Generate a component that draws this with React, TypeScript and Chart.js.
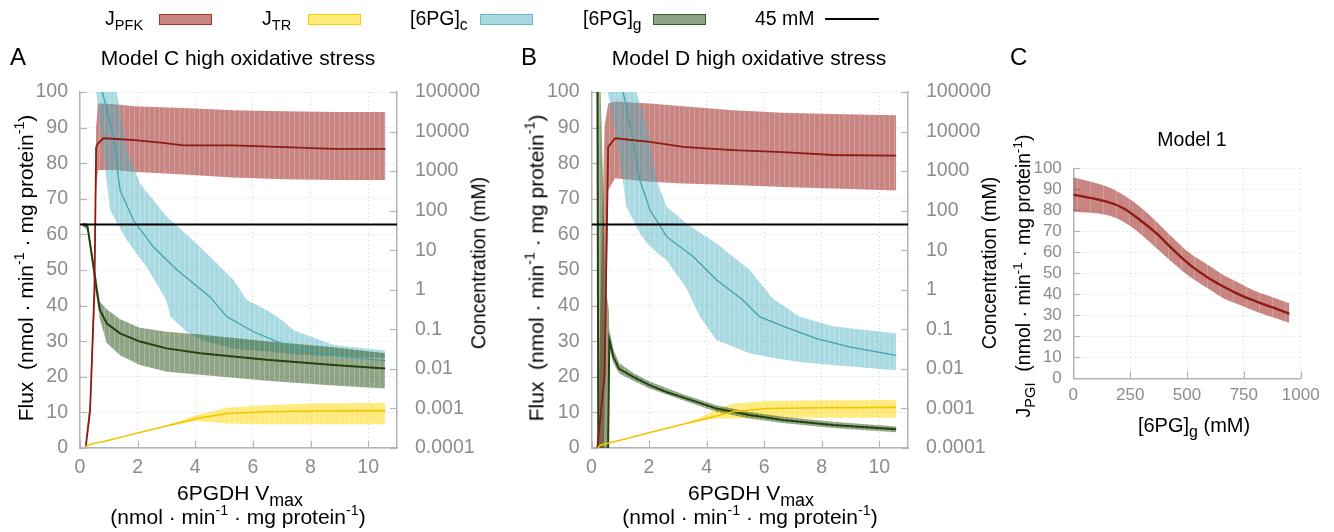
import React, { useEffect, useRef } from 'react';
import { Chart, registerables } from 'chart.js';

Chart.register(...registerables);

// ---------------- data ----------------
const X_TICKS_AB = [0, 2, 4, 6, 8, 10];
const FLUX_TICKS = [0, 10, 20, 30, 40, 50, 60, 70, 80, 90, 100];
const CONC_TICKS = [0.0001, 0.001, 0.01, 0.1, 1, 10, 100, 1000, 10000, 100000];
const CONC_TICK_LABELS = ['0.0001', '0.001', '0.01', '0.1', '1', '10', '100', '1000', '10000', '100000'];
const C_X_TICKS = [0, 250, 500, 750, 1000];
const C_X_TICK_LABELS = ['0', '250', '500', '750', '1000'];
const C_Y_TICKS = [0, 10, 20, 30, 40, 50, 60, 70, 80, 90, 100];

const THRESHOLD_X = [0, 11];
const THRESHOLD_MM = [45, 45];

// Panel A: Model C high oxidative stress
const A_PFK_X = [0.2, 0.35, 0.5, 0.56, 0.62, 0.81, 1.3, 1.9, 2.8, 3.6, 5.3, 7.1, 8.8, 10.6];
const A_PFK = [0.4, 10.7, 44, 84.5, 85.5, 87, 86.8, 86.5, 85.8, 85, 85, 84.5, 84, 84];
const A_PFK_HI = [0.8, 14, 50, 90, 96.8, 96.8, 96.5, 96, 95.7, 95.5, 94.9, 94.6, 94.4, 94.4];
const A_PFK_LO = [0, 8, 38, 73, 78, 78.1, 78, 77.5, 77.2, 76.8, 76, 75.5, 75.3, 75.3];

const A_TR_X = [0.2, 0.4, 1, 2, 3, 4.05, 5.1, 6.5, 8, 10.6];
const A_TR = [0.4, 1.1, 2.2, 4.2, 6.2, 8.3, 9.7, 10.2, 10.4, 10.5];
const A_TR_HI = [0.4, 1.1, 2.2, 4.2, 6.4, 9.3, 11.3, 12.1, 12.5, 12.7];
const A_TR_LO = [0.4, 1.1, 2.2, 4.2, 6.0, 7.6, 6.9, 6.7, 6.7, 6.7];

const A_C6_X = [0.72, 1.16, 1.39, 1.85, 2.55, 3.36, 4.51, 5.09, 6.02, 7.41, 8.8, 10.59];
const A_C6 = [150000, 7400, 330, 58, 12, 3.2, 0.66, 0.21, 0.087, 0.033, 0.022, 0.016];
const A_C6_BX = [0.54, 1.04, 1.27, 1.62, 2.08, 2.31, 2.89, 3.01, 3.13, 3.7, 4.17, 4.4, 5.32, 5.79, 6.48, 7.06, 7.41, 8.8, 10.59];
const A_C6_HI = [1e6, 1e6, 100000, 3400, 490, 300, 91, 71, 59, 25, 12, 8.3, 1.8, 0.55, 0.31, 0.16, 0.095, 0.04, 0.029];
const A_C6_LO = [150000, 105, 52, 18, 6.3, 3.8, 0.74, 0.5, 0.21, 0.087, 0.056, 0.049, 0.033, 0.03, 0.028, 0.025, 0.023, 0.021, 0.019];

const A_G6_X = [0.1, 0.26, 0.4, 0.5, 0.58, 0.69, 0.93, 1.39, 2.08, 3.01, 4.17, 6.48, 8.8, 10.59];
const A_G6 = [45, 40, 8.3, 2.7, 0.98, 0.31, 0.14, 0.079, 0.049, 0.033, 0.025, 0.017, 0.0126, 0.0102];
const A_G6_BX = [0.1, 0.26, 0.5, 0.69, 0.93, 1.39, 2.08, 3.01, 4.17, 6.48, 8.8, 10.59];
const A_G6_HI = [50, 48, 4, 0.5, 0.32, 0.18, 0.11, 0.087, 0.074, 0.05, 0.035, 0.025];
const A_G6_LO = [40, 32, 1.6, 0.18, 0.045, 0.022, 0.0126, 0.0085, 0.0071, 0.005, 0.0038, 0.0032];

// Panel B: Model D high oxidative stress
const B_PFK_X = [0.2, 0.45, 0.58, 0.82, 2.03, 3.18, 4.92, 6.65, 8.39, 10.59];
const B_PFK = [0, 20, 84.6, 87, 86, 84.6, 83.7, 83.1, 82.3, 82.1];
const B_PFK_HI = [0, 90, 96.8, 97.3, 96.8, 96, 94.9, 94.2, 93.8, 93.5];
const B_PFK_LO = [0, 0, 72.5, 75.8, 74.8, 74.3, 73.9, 73.3, 72.9, 72.3];

const B_TR_X = [0.22, 0.3, 1, 2, 3, 4.23, 4.92, 6.07, 8, 10.59];
const B_TR = [0, 0.8, 2.2, 4.3, 6.3, 8.8, 10.2, 11.1, 11.3, 11.4];
const B_TR_BX = [0.22, 3, 3.7, 4.23, 4.92, 6.07, 8, 10.59];
const B_TR_HI = [0, 6.3, 8.3, 10.3, 12.5, 13.2, 13.4, 13.5];
const B_TR_LO = [0, 6.3, 7.3, 8.2, 8.3, 8.5, 8.5, 8.5];

const B_C6_X = [1.05, 1.44, 1.68, 2.03, 2.61, 3.53, 4.34, 5.26, 5.84, 6.65, 7.8, 8.96, 10.59];
const B_C6 = [150000, 6200, 590, 105, 22, 6.9, 1.8, 0.55, 0.21, 0.12, 0.059, 0.036, 0.022];
const B_C6_BX = [0.51, 0.98, 1.21, 1.56, 1.68, 1.9, 2.26, 2.61, 3.3, 3.76, 4.34, 5.49, 6.3, 7.22, 8.39, 10.59];
const B_C6_HI = [1e6, 1e6, 1e6, 100000, 50000, 16000, 590, 126, 48, 28, 15, 3.2, 0.6, 0.21, 0.12, 0.079];
const B_C6_LO = [160000, 2300, 126, 40, 27, 16, 8.9, 5.6, 1.1, 0.21, 0.054, 0.025, 0.019, 0.015, 0.0126, 0.0093];

const B_G6_X = [0.2, 0.24, 0.56, 0.62, 0.76, 0.96, 1.45, 2.02, 2.6, 3.18, 4.34, 5.49, 6.65, 8.39, 10.59];
const B_G6 = [1e7, 1e-5, 1e-5, 0.054, 0.02, 0.01, 0.0063, 0.0039, 0.0026, 0.0019, 0.001, 0.00068, 0.00051, 0.00038, 0.0003];
const B_G6_BX = [0.18, 0.24, 0.3, 0.5, 0.6, 0.62, 0.76, 0.96, 1.45, 2.02, 3.18, 4.34, 5.49, 6.65, 8.39, 10.59];
const B_G6_HI = [1e7, 1e7, 300000, 1, 0.32, 0.1, 0.032, 0.014, 0.0079, 0.0048, 0.0023, 0.0012, 0.00081, 0.00062, 0.00046, 0.00035];
const B_G6_LO = [1e6, 1e-5, 1e-5, 1e-5, 1e-5, 0.035, 0.014, 0.0076, 0.005, 0.0032, 0.0016, 0.00083, 0.00056, 0.00043, 0.00032, 0.00025];

// Panel C: Model 1
const C_X = [0, 147, 220, 293, 366, 440, 513, 586, 660, 733, 806, 880, 950];
const C_J = [87.5, 84.1, 81, 75.4, 69, 61.1, 54, 48.4, 43.7, 39.7, 36.5, 33.6, 30.7];
const C_HI = [95.7, 91.3, 87.3, 81.7, 74.6, 66.7, 59.5, 54.4, 49.2, 45.2, 41.3, 38.5, 35.7];
const C_LO = [79.4, 77.8, 74.6, 69, 61.9, 54.8, 48.4, 43.2, 38.1, 34.9, 31.7, 29, 26.5];

// ---------------- styles ----------------
const FONT = '"Liberation Sans", Arial, Helvetica, sans-serif';
const TICK_COLOR = '#8c8c8c';
const GRID_COLOR = '#d2d2d2';
const AXIS_COLOR = '#b4b4b4';

const RED = { line: '#8e1b12', fill: 'rgba(160,45,40,0.58)', light: 'rgba(160,45,40,0.46)', edge: '#a3322b' };
const YEL = { line: '#f2c500', fill: 'rgba(255,215,0,0.52)', light: 'rgba(255,215,0,0.40)', edge: '#f5cc00' };
const CYA = { line: '#3fa3b0', fill: 'rgba(75,178,192,0.48)', light: 'rgba(75,178,192,0.36)', edge: '#6fb9c3' };
const GRN = { line: '#23420f', fill: 'rgba(40,80,20,0.52)', light: 'rgba(40,80,20,0.40)', edge: '#3c5e2a' };

const pts = (xs: number[], ys: number[]) => xs.map((x, i) => ({ x, y: ys[i] }));

function stripes(main: string, light: string, period: number): any {
  const c = document.createElement('canvas');
  c.width = period;
  c.height = 4;
  const g = c.getContext('2d');
  if (!g) return main;
  g.fillStyle = main;
  g.fillRect(0, 0, period - 1, 4);
  g.fillStyle = light;
  g.fillRect(period - 1, 0, 1, 4);
  return g.createPattern(c, 'repeat') || main;
}

function lineDs(xs: number[], ys: number[], color: string, width: number, axis: string, order: number, tension = 0) {
  return {
    data: pts(xs, ys),
    yAxisID: axis,
    borderColor: color,
    borderWidth: width,
    pointRadius: 0,
    pointHoverRadius: 0,
    fill: false,
    tension,
    order,
  };
}

function bandDs(xs: number[], lo: number[], hi: number[], bg: any, axis: string, order: number, tension = 0) {
  return [
    { data: pts(xs, hi), yAxisID: axis, borderWidth: 0, borderColor: 'transparent', pointRadius: 0, pointHoverRadius: 0, fill: false, tension, order },
    { data: pts(xs, lo), yAxisID: axis, borderWidth: 0, borderColor: 'transparent', pointRadius: 0, pointHoverRadius: 0, fill: '-1', backgroundColor: bg, tension, order },
  ];
}

const innerTicks = {
  id: 'innerTicks',
  beforeDatasetsDraw(chart: any) {
    const { ctx, chartArea: a } = chart;
    ctx.save();
    ctx.strokeStyle = AXIS_COLOR;
    ctx.lineWidth = 1.2;
    Object.values(chart.scales).forEach((s: any) => {
      const len = 7;
      s.ticks.forEach((t: any) => {
        const p = Math.round(s.getPixelForValue(t.value)) + 0.5;
        ctx.beginPath();
        if (s.axis === 'x') {
          ctx.moveTo(p, a.bottom);
          ctx.lineTo(p, a.bottom - len);
        } else if (s.position === 'left') {
          ctx.moveTo(a.left, p);
          ctx.lineTo(a.left + len, p);
        } else {
          ctx.moveTo(a.right, p);
          ctx.lineTo(a.right - len, p);
        }
        ctx.stroke();
      });
    });
    ctx.restore();
  },
};

type Geo = { top: number; yW: number; y2W: number; xH: number };

function fluxConfig(p: any, g: Geo): any {
  const sz = 19.5;
  const datasets = [
    lineDs(THRESHOLD_X, THRESHOLD_MM, '#000000', 2, 'y2', 1),
    lineDs(p.trX, p.tr, YEL.line, 1.6, 'y', 2),
    lineDs(p.pfkX, p.pfk, RED.line, 1.8, 'y', 3),
    lineDs(p.g6X, p.g6, GRN.line, 2, 'y2', 4),
    lineDs(p.c6X, p.c6, CYA.line, 1.3, 'y2', 5),
    ...bandDs(p.g6BX, p.g6Lo, p.g6Hi, stripes(GRN.fill, GRN.light, 5), 'y2', 7),
    ...bandDs(p.c6BX, p.c6Lo, p.c6Hi, stripes(CYA.fill, CYA.light, 5), 'y2', 8),
    ...bandDs(p.trBX, p.trLo, p.trHi, stripes(YEL.fill, YEL.light, 5), 'y', 9),
    ...bandDs(p.pfkX, p.pfkLo, p.pfkHi, stripes(RED.fill, RED.light, 5), 'y', 10),
  ];
  const font = { family: FONT, size: sz };
  return {
    type: 'line',
    data: { datasets },
    plugins: [innerTicks],
    options: {
      animation: false,
      responsive: false,
      events: [],
      layout: { padding: { top: g.top, left: 0, right: 0, bottom: 0 } },
      plugins: { legend: { display: false }, tooltip: { enabled: false } },
      scales: {
        x: {
          type: 'linear', min: 0, max: 11,
          afterBuildTicks: (s: any) => { s.ticks = X_TICKS_AB.map((v) => ({ value: v })); },
          afterFit: (s: any) => { s.height = g.xH; },
          ticks: { font, color: TICK_COLOR, padding: 8, maxRotation: 0, autoSkip: false, callback: (v: any) => String(v) },
          grid: { color: GRID_COLOR, lineWidth: 1, drawTicks: false },
          border: { display: true, color: AXIS_COLOR, width: 1.5, dash: [1, 3] },
        },
        y: {
          type: 'linear', position: 'left', min: 0, max: 100,
          afterBuildTicks: (s: any) => { s.ticks = FLUX_TICKS.map((v) => ({ value: v })); },
          afterFit: (s: any) => { s.width = g.yW; },
          ticks: { font, color: TICK_COLOR, padding: 12, autoSkip: false, callback: (v: any) => String(v) },
          grid: { color: GRID_COLOR, lineWidth: 1, drawTicks: false },
          border: { display: true, color: AXIS_COLOR, width: 1.5, dash: [1, 3] },
        },
        y2: {
          type: 'logarithmic', position: 'right', min: 0.0001, max: 100000,
          afterBuildTicks: (s: any) => { s.ticks = CONC_TICKS.map((v) => ({ value: v })); },
          afterFit: (s: any) => { s.width = g.y2W; },
          ticks: { font, color: TICK_COLOR, padding: 18, autoSkip: false, callback: (_v: any, i: number) => CONC_TICK_LABELS[i] },
          grid: { display: false, drawTicks: false },
          border: { display: true, color: AXIS_COLOR, width: 1.5 },
        },
      },
    },
  };
}

function cConfig(): any {
  const font = { family: FONT, size: 17 };
  return {
    type: 'line',
    data: {
      datasets: [
        lineDs(C_X, C_J, RED.line, 2.4, 'y', 1, 0.35),
        ...bandDs(C_X, C_LO, C_HI, stripes(RED.fill, RED.light, 13), 'y', 5, 0.35),
      ],
    },
    plugins: [innerTicks],
    options: {
      animation: false,
      responsive: false,
      events: [],
      layout: { padding: { top: 168.3, left: 0, right: 33.3, bottom: 0 } },
      plugins: { legend: { display: false }, tooltip: { enabled: false } },
      scales: {
        x: {
          type: 'linear', min: 0, max: 1000,
          afterBuildTicks: (s: any) => { s.ticks = C_X_TICKS.map((v) => ({ value: v })); },
          afterFit: (s: any) => { s.height = 153.7; },
          ticks: { font, color: TICK_COLOR, padding: 7, maxRotation: 0, autoSkip: false, callback: (_v: any, i: number) => C_X_TICK_LABELS[i] },
          grid: { color: GRID_COLOR, lineWidth: 1, drawTicks: false },
          border: { display: true, color: AXIS_COLOR, width: 1.5, dash: [1, 3] },
        },
        y: {
          type: 'linear', position: 'left', min: 0, max: 100,
          afterBuildTicks: (s: any) => { s.ticks = C_Y_TICKS.map((v) => ({ value: v })); },
          afterFit: (s: any) => { s.width = 73.3; },
          ticks: { font, color: TICK_COLOR, padding: 11.5, autoSkip: false, callback: (v: any) => String(v) },
          grid: { color: GRID_COLOR, lineWidth: 1, drawTicks: false },
          border: { display: true, color: AXIS_COLOR, width: 1.5, dash: [1, 3] },
        },
      },
    },
  };
}

const PANEL_A = {
  pfkX: A_PFK_X, pfk: A_PFK, pfkHi: A_PFK_HI, pfkLo: A_PFK_LO,
  trX: A_TR_X, tr: A_TR, trBX: A_TR_X, trHi: A_TR_HI, trLo: A_TR_LO,
  c6X: A_C6_X, c6: A_C6, c6BX: A_C6_BX, c6Hi: A_C6_HI, c6Lo: A_C6_LO,
  g6X: A_G6_X, g6: A_G6, g6BX: A_G6_BX, g6Hi: A_G6_HI, g6Lo: A_G6_LO,
};
const PANEL_B = {
  pfkX: B_PFK_X, pfk: B_PFK, pfkHi: B_PFK_HI, pfkLo: B_PFK_LO,
  trX: B_TR_X, tr: B_TR, trBX: B_TR_BX, trHi: B_TR_HI, trLo: B_TR_LO,
  c6X: B_C6_X, c6: B_C6, c6BX: B_C6_BX, c6Hi: B_C6_HI, c6Lo: B_C6_LO,
  g6X: B_G6_X, g6: B_G6, g6BX: B_G6_BX, g6Hi: B_G6_HI, g6Lo: B_G6_LO,
};

function ChartCanvas({ left, width, build }: { left: number; width: number; build: () => any }) {
  const ref = useRef<HTMLCanvasElement | null>(null);
  useEffect(() => {
    if (!ref.current) return;
    const chart = new Chart(ref.current, build());
    return () => chart.destroy();
  }, []);
  return (
    <canvas
      ref={ref}
      width={width}
      height={532}
      style={{ position: 'absolute', left, top: 0, width, height: 532 }}
    />
  );
}

const Sup = ({ children }: any) => (
  <span style={{ fontSize: '0.68em', position: 'relative', top: '-0.62em' }}>{children}</span>
);
const Sub = ({ children, s = 0.75 }: any) => (
  <span style={{ fontSize: `${s}em`, position: 'relative', top: '0.32em' }}>{children}</span>
);

function T({ x, y, size, children, rotate = false, anchor = 'middle', color = '#000' }: any) {
  const tx = anchor === 'start' ? '0' : '-50%';
  return (
    <div
      style={{
        position: 'absolute', left: x, top: y, fontSize: size, lineHeight: 1, whiteSpace: 'nowrap',
        color, fontFamily: FONT,
        transform: `translate(${tx}, -50%)${rotate ? ' rotate(-90deg)' : ''}`,
      }}
    >
      {children}
    </div>
  );
}

const Swatch = ({ x, c }: any) => (
  <div style={{ position: 'absolute', left: x, top: 13.5, width: 53, height: 11, background: c.fill, border: `1.5px solid ${c.edge}`, boxSizing: 'border-box' }} />
);

const units = (
  <>(nmol · min<Sup>-1</Sup> · mg protein<Sup>-1</Sup>)</>
);

export default function App() {
  return (
    <div style={{ position: 'absolute', left: 0, top: 0, width: 1334, height: 532, background: '#fff', overflow: 'hidden', fontFamily: FONT }}>
      <ChartCanvas left={0} width={500} build={() => fluxConfig(PANEL_A, { top: 92, yW: 80, y2W: 103, xH: 84 })} />
      <ChartCanvas left={500} width={500} build={() => fluxConfig(PANEL_B, { top: 92, yW: 91.5, y2W: 92, xH: 84 })} />
      <ChartCanvas left={1000} width={334} build={cConfig} />

      {/* legend */}
      <T x={105} y={19} size={19.5} anchor="start">J<Sub>PFK</Sub></T>
      <Swatch x={159} c={RED} />
      <T x={262} y={19} size={19.5} anchor="start">J<Sub>TR</Sub></T>
      <Swatch x={308} c={YEL} />
      <T x={410} y={19} size={19.5} anchor="start">[6PG]<Sub s={0.8}>c</Sub></T>
      <Swatch x={480} c={CYA} />
      <T x={583} y={19} size={19.5} anchor="start">[6PG]<Sub s={0.8}>g</Sub></T>
      <Swatch x={653} c={GRN} />
      <T x={755} y={19} size={19.5} anchor="start">45 mM</T>
      <div style={{ position: 'absolute', left: 825, top: 18, width: 54, height: 2, background: '#000' }} />

      {/* panel letters & titles */}
      <T x={10} y={57} size={24} anchor="start">A</T>
      <T x={521} y={57} size={24} anchor="start">B</T>
      <T x={1010} y={57} size={24} anchor="start">C</T>
      <T x={238} y={57} size={21}>Model C high oxidative stress</T>
      <T x={749} y={57} size={21}>Model D high oxidative stress</T>
      <T x={1192} y={140} size={19.5}>Model 1</T>

      {/* y titles */}
      <T x={25} y={268} size={21} rotate>Flux{'\u00a0 '}{units}</T>
      <T x={535.5} y={268} size={21} rotate>Flux{'\u00a0 '}{units}</T>
      <T x={478.5} y={263} size={19.5} rotate>Concentration (mM)</T>
      <T x={990} y={263} size={19.5} rotate>Concentration (mM)</T>
      <T x={1024} y={276} size={19.5} rotate>J<Sub>PGI</Sub>{'\u00a0 '}{units}</T>

      {/* x titles */}
      <T x={240} y={493} size={21}>6PGDH V<Sub s={0.85}>max</Sub></T>
      <T x={238} y={516} size={21}>{units}</T>
      <T x={751} y={493} size={21}>6PGDH V<Sub s={0.85}>max</Sub></T>
      <T x={750} y={516} size={21}>{units}</T>
      <T x={1194} y={425} size={20}>[6PG]<Sub s={0.8}>g</Sub> (mM)</T>
    </div>
  );
}
